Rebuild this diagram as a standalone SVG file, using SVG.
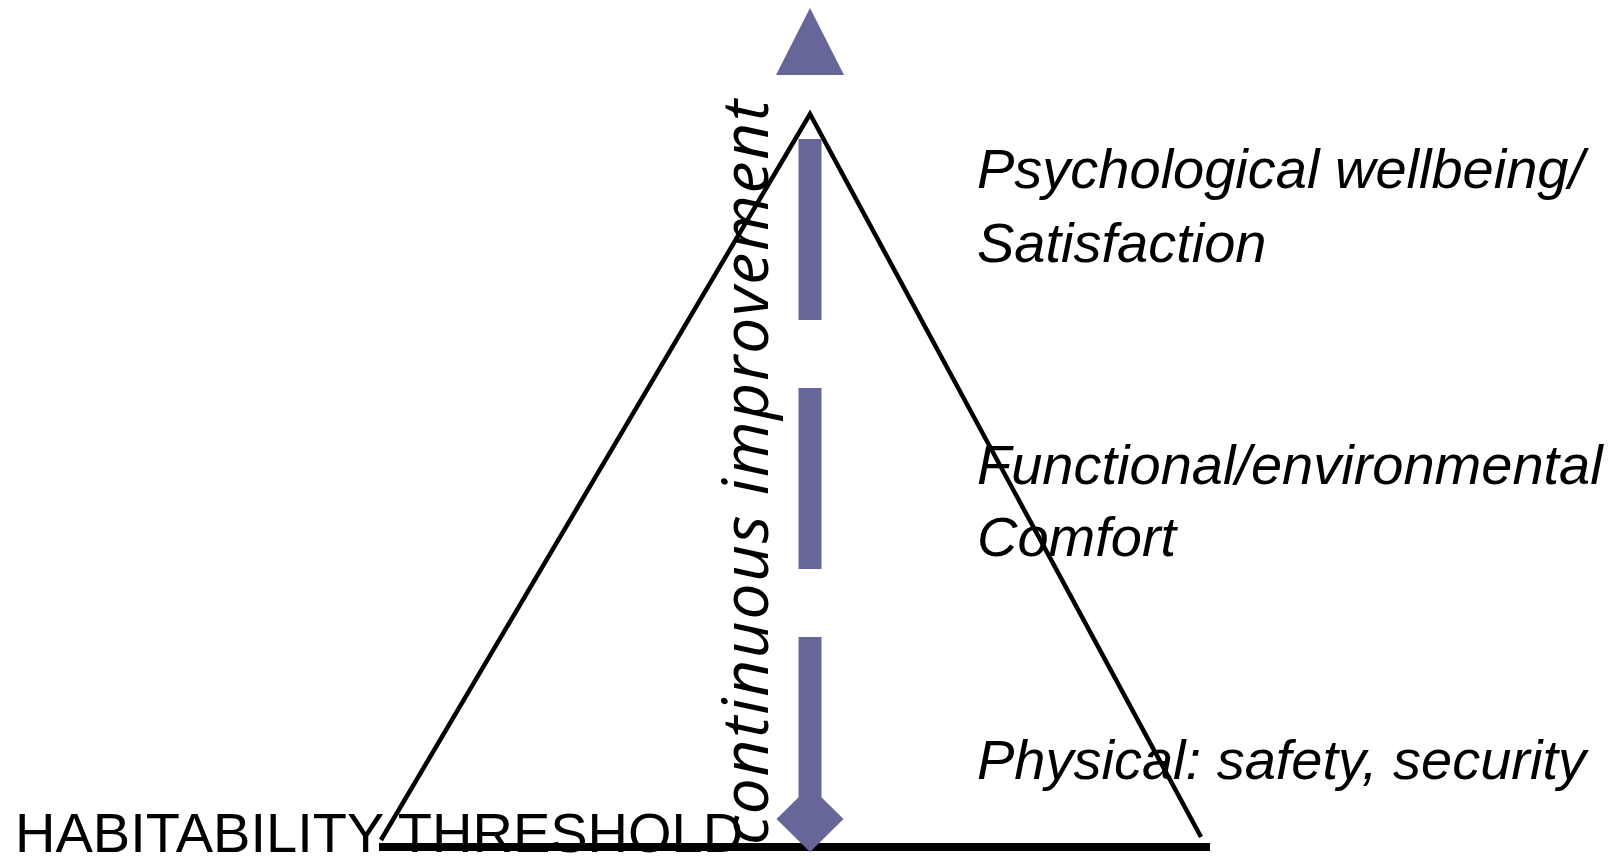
<svg xmlns="http://www.w3.org/2000/svg" width="1615" height="856" viewBox="0 0 1615 856">
  <style>
    .level { font-family: "Liberation Sans", Arial, sans-serif; font-style: italic; font-size: 56px; fill: #000; }
    .threshold { font-family: "Liberation Sans", Arial, sans-serif; font-size: 56px; fill: #000; }
    .axis-label { font-family: "Open Sans", "Noto Sans", sans-serif; font-style: italic; font-size: 64px; fill: #000; }
    .accent { fill: #666699; }
  </style>
  <rect width="1615" height="856" fill="#ffffff"/>

  <!-- pyramid outline -->
  <g id="pyramid">
    <polyline points="381,840 810,114 1201,837" fill="none" stroke="#000" stroke-width="4.5" stroke-linejoin="miter"/>
  </g>

  <!-- ground line -->
  <g id="threshold-line">
    <line x1="379" y1="847" x2="1210" y2="847" stroke="#000" stroke-width="8"/>
  </g>

  <!-- improvement axis: dashed shaft, arrow tip above, diamond at the foot -->
  <g id="connectors">
    <line x1="810" y1="139" x2="810" y2="819" stroke="#666699" stroke-width="23" stroke-dasharray="181 68"/>
    <polygon class="accent" points="810,8 844,75 776,75"/>
    <polygon class="accent" points="810,786 843.5,819 810,852 776.5,819"/>
  </g>

  <g id="axis-label">
    <text class="axis-label" transform="translate(768,845) rotate(-90)" x="0" y="0" textLength="745">continuous improvement</text>
  </g>

  <g id="threshold-label">
    <text class="threshold" x="15" y="852">HABITABILITY THRESHOLD</text>
  </g>

  <g id="level-psychological">
    <text class="level" x="977" y="188">Psychological wellbeing/</text>
    <text class="level" x="977" y="262">Satisfaction</text>
  </g>

  <g id="level-functional">
    <text class="level" x="977" y="484">Functional/environmental</text>
    <text class="level" x="977" y="556">Comfort</text>
  </g>

  <g id="level-physical">
    <text class="level" x="977" y="779">Physical: safety, security</text>
  </g>
</svg>
